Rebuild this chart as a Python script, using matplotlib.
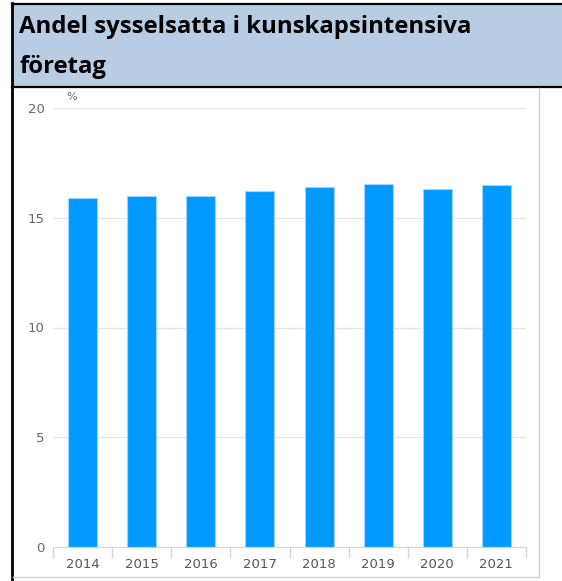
import matplotlib
matplotlib.use("agg")
import matplotlib.pyplot as plt
from matplotlib.patches import Rectangle

years = ['2014', '2015', '2016', '2017', '2018', '2019', '2020', '2021']
share = [15.9, 16.0, 16.0, 16.2, 16.4, 16.55, 16.3, 16.5]
yticks = [0, 5, 10, 15, 20]
title = 'Andel sysselsatta i kunskapsintensiva\nföretag'

W, H = 562, 581
fig = plt.figure(figsize=(W / 100, H / 100), dpi=100)

# frame layer in pixel coordinates
bg = fig.add_axes([0, 0, 1, 1])
bg.set_xlim(0, W)
bg.set_ylim(H, 0)
bg.axis('off')
bg.add_patch(Rectangle((12, 4), W - 12, 83, facecolor='#b8cce4', edgecolor='none'))
bg.plot([12, W], [4, 4], color='black', lw=1.6)
bg.plot([12, W], [87, 87], color='black', lw=1.6)
bg.plot([12, 12], [3, H], color='black', lw=2.0)
bg.plot([539, 539], [88, 577], color='#d0d0d0', lw=1.0)
bg.plot([13, 539], [577, 577], color='#d0d0d0', lw=1.0)
bg.text(19, 27, title.split('\n')[0], fontsize=17.2, fontweight='bold', family='Open Sans',
        color='black', va='center', ha='left')
bg.text(19, 67, title.split('\n')[1], fontsize=17.2, fontweight='bold', family='Open Sans',
        color='black', va='center', ha='left')
bg.text(66, 97, '%', fontsize=8, color='#666666', ha='left', va='center')

# chart
ax = fig.add_axes([53 / W, (H - 547) / H, 473 / W, 439 / H])
x = range(len(years))
ax.bar(x, share, width=0.49, color='#0099ff', edgecolor='#9fd4ff', linewidth=0.8, zorder=3)
ax.set_xlim(-0.5, len(years) - 0.5)
ax.set_ylim(0, 20)
ax.set_yticks(yticks)
ax.set_yticklabels([str(t) for t in yticks])
ax.set_xticks(list(x))
ax.set_xticklabels(years)
ax.set_xticks([i - 0.5 for i in range(len(years) + 1)], minor=True)
ax.tick_params(axis='x', which='major', length=0, pad=8, labelsize=9.5, labelcolor='#555555')
ax.tick_params(axis='x', which='minor', length=8, color='#ccd6eb', width=1)
ax.tick_params(axis='y', length=0, pad=6, labelsize=9.5, labelcolor='#666666')
ax.grid(axis='y', color='#e6e6e6', lw=1, zorder=0)
for s in ['top', 'right', 'left']:
    ax.spines[s].set_visible(False)
ax.spines['bottom'].set_color('#ccd6eb')
ax.spines['bottom'].set_zorder(4)
ax.set_facecolor('none')

fig.savefig('out.png', dpi=100)
